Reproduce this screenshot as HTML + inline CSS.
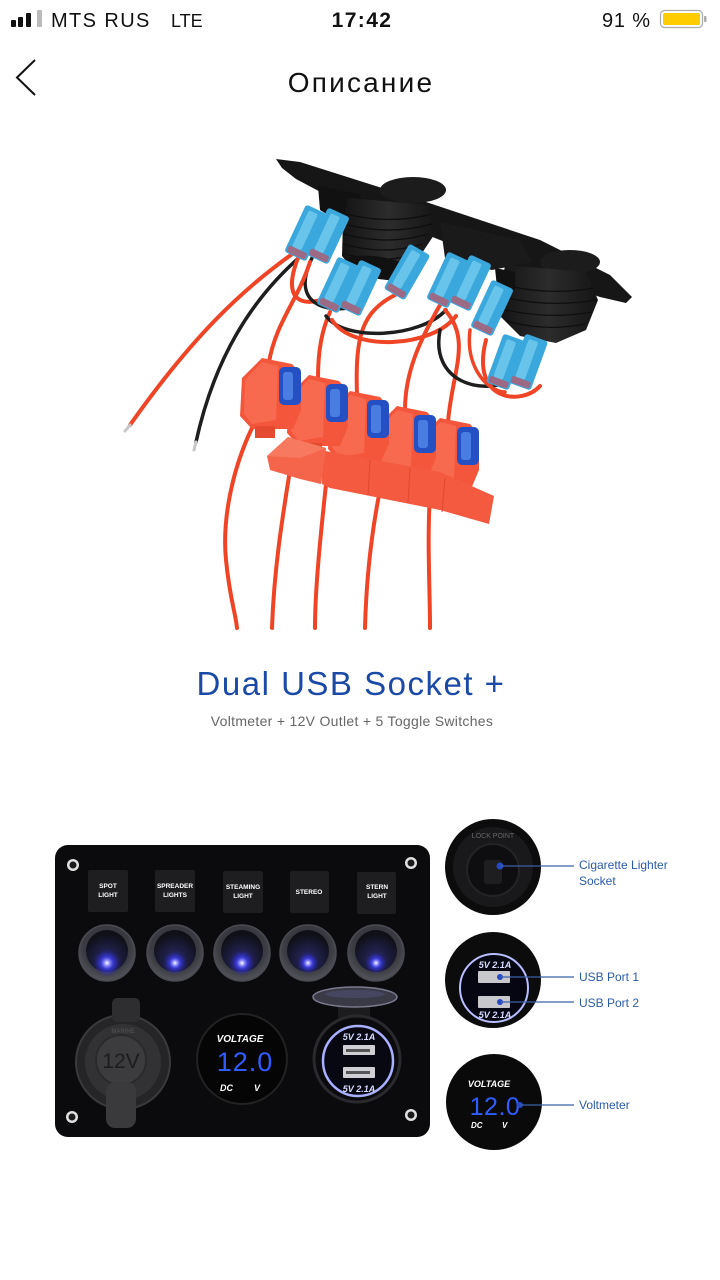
<!DOCTYPE html>
<html><head><meta charset="utf-8">
<style>
html,body{margin:0;padding:0;background:#fff;width:720px;height:1280px;overflow:hidden}
svg{display:block}
text{font-family:"Liberation Sans","DejaVu Sans",sans-serif}
</style></head>
<body>
<svg width="720" height="1280" viewBox="0 0 720 1280" xmlns="http://www.w3.org/2000/svg">
<defs>
  <radialGradient id="glow" cx="50%" cy="50%" r="50%">
    <stop offset="0" stop-color="#ffffff"/>
    <stop offset="0.18" stop-color="#9a9aff"/>
    <stop offset="0.45" stop-color="#4040ff" stop-opacity="0.7"/>
    <stop offset="1" stop-color="#2020c0" stop-opacity="0"/>
  </radialGradient>
  <radialGradient id="ring" cx="50%" cy="40%" r="60%">
    <stop offset="0" stop-color="#2a2a33"/>
    <stop offset="0.7" stop-color="#3b3b42"/>
    <stop offset="1" stop-color="#55555c"/>
  </radialGradient>
  <radialGradient id="rocker" cx="50%" cy="70%" r="60%">
    <stop offset="0" stop-color="#2a2a6a"/>
    <stop offset="1" stop-color="#101018"/>
  </radialGradient>
  <linearGradient id="cyl" x1="0" y1="0" x2="1" y2="0">
    <stop offset="0" stop-color="#141414"/>
    <stop offset="0.5" stop-color="#2c2c2c"/>
    <stop offset="1" stop-color="#151515"/>
  </linearGradient>
  <g id="conn">
    <rect x="-12" y="-26" width="24" height="52" rx="3" fill="#3aa8dc"/>
    <rect x="-7" y="-22" width="10" height="40" rx="2" fill="#78cef0" opacity="0.75"/>
    <rect x="-10" y="18" width="20" height="7" rx="2" fill="#c85060" opacity="0.7"/>
  </g>
  <g id="fuse">
    <path d="M242,378 L262,358 L292,364 L301,374 L301,410 L293,429 L252,429 L240,416 Z" fill="#f4563c"/>
    <path d="M245,380 L262,362 L278,366 L276,420 L252,424 L244,414 Z" fill="#f76a50"/>
    <rect x="279" y="367" width="22" height="38" rx="5" fill="#2550c4"/>
    <rect x="283" y="372" width="10" height="28" rx="3" fill="#4a7de2"/>
    <rect x="255" y="426" width="20" height="12" fill="#e44a30"/>
  </g>
</defs>

<!-- STATUS BAR -->
<rect x="11" y="20" width="5" height="7" rx="1" fill="#111"/>
<rect x="18" y="17" width="5" height="10" rx="1" fill="#111"/>
<rect x="26" y="13" width="5" height="14" rx="1" fill="#111"/>
<rect x="37" y="10" width="5" height="17" rx="1" fill="#bbb"/>
<text x="51" y="27" font-size="20" letter-spacing="1.4" fill="#111">MTS RUS</text>
<text x="171" y="27" font-size="18" fill="#111">LTE</text>
<text x="362" y="27" font-size="21" font-weight="bold" letter-spacing="1.4" text-anchor="middle" fill="#111">17:42</text>
<text x="602" y="27" font-size="20" letter-spacing="0.8" fill="#111">91 %</text>
<rect x="660.5" y="10.5" width="42" height="17" rx="4" fill="none" stroke="#aaa" stroke-width="1.2"/>
<rect x="663" y="13" width="37" height="12" rx="2" fill="#ffcc00"/>
<rect x="704" y="16" width="2.5" height="6" rx="1" fill="#aaa"/>

<!-- HEADER -->
<polyline points="35,60 17,77.5 35,95" fill="none" stroke="#111" stroke-width="2"/>
<text x="361" y="92" font-size="28" letter-spacing="2.2" text-anchor="middle" fill="#111">Описание</text>

<!-- WIRING PHOTO -->
<polygon points="276,159 300,162 420,200 540,240 610,275 632,297 626,303 600,297 540,276 470,252 400,224 330,197 296,179 282,168" fill="#161616"/>
<polygon points="318,186 360,194 364,216 340,222 320,210" fill="#111"/>
<ellipse cx="413" cy="190" rx="33" ry="13" fill="#1c1c1c"/>
<polygon points="348,198 430,205 436,232 412,268 386,279 356,273 342,256 343,220" fill="url(#cyl)"/>
<g stroke="#0e0e0e" stroke-width="1.3" fill="none">
  <path d="M346,214 Q390,225 432,214"/><path d="M344,224 Q390,236 432,224"/>
  <path d="M343,234 Q388,246 428,234"/><path d="M343,244 Q385,256 422,244"/>
  <path d="M345,254 Q382,265 414,254"/>
</g>
<ellipse cx="380" cy="268" rx="36" ry="11" transform="rotate(10 380 268)" fill="#111"/>
<polygon points="440,222 520,240 532,262 492,270 445,258" fill="#1a1a1a"/>
<ellipse cx="570" cy="262" rx="30" ry="12" fill="#1c1c1c"/>
<polygon points="505,265 586,272 598,300 586,330 556,343 520,336 500,316 502,285" fill="url(#cyl)"/>
<g stroke="#0e0e0e" stroke-width="1.3" fill="none">
  <path d="M504,285 Q550,296 594,288"/><path d="M502,297 Q550,308 596,300"/>
  <path d="M502,309 Q548,320 592,312"/><path d="M506,321 Q546,332 585,324"/>
</g>
<polygon points="495,268 515,272 515,290 497,288" fill="#111"/>

<g fill="none" stroke-linecap="round">
  <path d="M298,250 C240,290 190,340 130,425" stroke="#ef4426" stroke-width="4"/>
  <path d="M302,255 C250,300 214,360 196,442" stroke="#1e1e1e" stroke-width="3.5"/>
  <path d="M300,253 C280,300 300,310 332,296" stroke="#ef4426" stroke-width="4"/>
  <path d="M312,258 C292,300 320,312 348,308" stroke="#1e1e1e" stroke-width="3.5"/>
  <path d="M310,262 C298,300 276,322 269,362" stroke="#ef4426" stroke-width="4"/>
  <path d="M330,312 C322,330 318,350 318,378" stroke="#ef4426" stroke-width="4"/>
  <path d="M395,295 C362,312 355,335 357,395" stroke="#ef4426" stroke-width="4"/>
  <path d="M326,316 C345,342 420,338 446,310" stroke="#1e1e1e" stroke-width="3.5"/>
  <path d="M332,320 C352,352 432,348 456,316" stroke="#ef4426" stroke-width="4"/>
  <path d="M440,305 C420,340 405,372 405,410" stroke="#ef4426" stroke-width="4"/>
  <path d="M445,310 C472,340 452,372 448,422" stroke="#ef4426" stroke-width="4"/>
  <path d="M440,330 C430,382 482,396 512,380" stroke="#1e1e1e" stroke-width="3.5"/>
  <path d="M486,340 C470,402 522,406 540,386" stroke="#ef4426" stroke-width="4"/>
  <path d="M470,330 C465,370 490,392 505,392" stroke="#ef4426" stroke-width="3.5"/>
  <line x1="130" y1="425" x2="125" y2="431" stroke="#c8c8c8" stroke-width="3"/>
  <line x1="196" y1="442" x2="194" y2="450" stroke="#c8c8c8" stroke-width="3"/>
</g>

<use href="#conn" transform="translate(306,233) rotate(25)"/>
<use href="#conn" transform="translate(328,236) rotate(25)"/>
<use href="#conn" transform="translate(338,285) rotate(25)"/>
<use href="#conn" transform="translate(360,288) rotate(25)"/>
<use href="#conn" transform="translate(407,272) rotate(30)"/>
<use href="#conn" transform="translate(448,280) rotate(25)"/>
<use href="#conn" transform="translate(470,283) rotate(25)"/>
<use href="#conn" transform="translate(492,308) rotate(25)"/>
<use href="#conn" transform="translate(506,362) rotate(20)"/>
<use href="#conn" transform="translate(528,362) rotate(20)"/>

<g fill="none" stroke="#ef4426" stroke-width="4" stroke-linecap="round">
  <path d="M252,428 C232,470 222,520 226,560 S235,610 237,628"/>
  <path d="M290,470 C282,520 274,570 272,628"/>
  <path d="M327,475 C320,540 315,590 315,628"/>
  <path d="M380,490 C370,540 366,590 365,628"/>
  <path d="M430,495 C427,540 430,590 430,628"/>
</g>

<use href="#fuse" transform="translate(178,60)"/>
<use href="#fuse" transform="translate(135,48)"/>
<use href="#fuse" transform="translate(88,33)"/>
<use href="#fuse" transform="translate(47,17)"/>
<use href="#fuse"/>
<polygon points="320,450 440,472 494,496 489,524 440,510 330,488 322,484" fill="#f35a40"/>
<g stroke="#e0482f" stroke-width="1" fill="none">
  <path d="M370,460 L368,495"/><path d="M410,468 L408,503"/><path d="M445,478 L442,512"/>
</g>
<polygon points="267,456 288,437 326,448 321,484 300,479 270,470" fill="#f5654b"/>
<polygon points="267,456 288,437 326,448 300,458" fill="#f77a60"/>

<!-- TITLE -->
<text x="351" y="695" font-size="33" letter-spacing="1.5" text-anchor="middle" fill="#1a4aa6">Dual USB Socket +</text>
<text x="352" y="726" font-size="14" letter-spacing="0.3" text-anchor="middle" fill="#666">Voltmeter + 12V Outlet + 5 Toggle Switches</text>

<!-- PANEL -->
<rect x="55" y="845" width="375" height="292" rx="13" fill="#0b0b0e"/>
<g fill="#e0e0e0"><circle cx="73" cy="865" r="6"/><circle cx="411" cy="863" r="6"/><circle cx="72" cy="1117" r="6"/><circle cx="411" cy="1115" r="6"/></g>
<g fill="#1a1a1a"><circle cx="73" cy="865" r="3.5"/><circle cx="411" cy="863" r="3.5"/><circle cx="72" cy="1117" r="3.5"/><circle cx="411" cy="1115" r="3.5"/></g>

<g fill="#1e1e21">
  <rect x="88" y="870" width="40" height="42" rx="2"/>
  <rect x="155" y="870" width="40" height="42" rx="2"/>
  <rect x="223" y="871" width="40" height="42" rx="2"/>
  <rect x="290" y="871" width="39" height="42" rx="2"/>
  <rect x="357" y="872" width="39" height="42" rx="2"/>
</g>
<g fill="#fff" font-size="6.5" font-weight="bold" text-anchor="middle">
  <text x="108" y="888">SPOT</text><text x="108" y="897">LIGHT</text>
  <text x="175" y="888">SPREADER</text><text x="175" y="897">LIGHTS</text>
  <text x="243" y="889">STEAMING</text><text x="243" y="898">LIGHT</text>
  <text x="309" y="894">STEREO</text>
  <text x="377" y="889">STERN</text><text x="377" y="898">LIGHT</text>
</g>

<g>
  <circle cx="107" cy="953" r="28" fill="url(#ring)" stroke="#4a4a52" stroke-width="1.5"/>
  <circle cx="107" cy="951" r="21" fill="url(#rocker)"/>
  <circle cx="107" cy="963" r="14" fill="url(#glow)"/>
  <circle cx="175" cy="953" r="28" fill="url(#ring)" stroke="#4a4a52" stroke-width="1.5"/>
  <circle cx="175" cy="951" r="21" fill="url(#rocker)"/>
  <circle cx="175" cy="963" r="12" fill="url(#glow)"/>
  <circle cx="242" cy="953" r="28" fill="url(#ring)" stroke="#4a4a52" stroke-width="1.5"/>
  <circle cx="242" cy="951" r="21" fill="url(#rocker)"/>
  <circle cx="242" cy="963" r="13" fill="url(#glow)"/>
  <circle cx="308" cy="953" r="28" fill="url(#ring)" stroke="#4a4a52" stroke-width="1.5"/>
  <circle cx="308" cy="951" r="21" fill="url(#rocker)"/>
  <circle cx="308" cy="963" r="11" fill="url(#glow)"/>
  <circle cx="376" cy="953" r="28" fill="url(#ring)" stroke="#4a4a52" stroke-width="1.5"/>
  <circle cx="376" cy="951" r="21" fill="url(#rocker)"/>
  <circle cx="376" cy="963" r="11" fill="url(#glow)"/>
</g>

<circle cx="123" cy="1062" r="47" fill="#252527" stroke="#3a3a3c" stroke-width="2"/>
<circle cx="123" cy="1062" r="38" fill="#323234"/>
<rect x="112" y="998" width="28" height="24" rx="5" fill="#2e2e30"/>
<circle cx="121" cy="1060" r="25" fill="#3c3c3e" stroke="#2a2a2c" stroke-width="2"/>
<text x="121" y="1068" font-size="21" text-anchor="middle" fill="#1c1c1c">12V</text>
<text x="123" y="1033" font-size="6" text-anchor="middle" fill="#555">MARINE</text>
<rect x="106" y="1082" width="30" height="46" rx="9" fill="#3a3a3c"/>

<circle cx="242" cy="1059" r="45" fill="#050506" stroke="#222" stroke-width="2"/>
<text x="240" y="1042" font-size="10" font-weight="bold" font-style="italic" text-anchor="middle" fill="#fff">VOLTAGE</text>
<text x="245" y="1071" font-size="27" text-anchor="middle" letter-spacing="1" fill="#2f5cff">12.0</text>
<text x="220" y="1091" font-size="9" font-weight="bold" font-style="italic" fill="#fff">DC</text>
<text x="254" y="1091" font-size="9" font-weight="bold" font-style="italic" fill="#fff">V</text>

<rect x="338" y="998" width="32" height="20" fill="#1c1c1e"/>
<ellipse cx="355" cy="997" rx="42" ry="10" fill="#3a3a46" stroke="#7a7a90" stroke-width="1.5"/>
<ellipse cx="355" cy="994" rx="30" ry="4" fill="#4a4a66" opacity="0.8"/>
<circle cx="357" cy="1059" r="43" fill="#0b0b0e" stroke="#2a2a2e" stroke-width="3"/>
<circle cx="358" cy="1061" r="35" fill="#080812" stroke="#a8b0ff" stroke-width="2.5"/>
<text x="359" y="1040" font-size="9" font-weight="bold" font-style="italic" text-anchor="middle" fill="#d8dcff">5V 2.1A</text>
<rect x="343" y="1045" width="32" height="10" rx="1" fill="#d0d0d4"/>
<rect x="346" y="1049" width="24" height="3" fill="#555"/>
<rect x="343" y="1067" width="32" height="11" rx="1" fill="#d0d0d4"/>
<rect x="346" y="1071" width="24" height="3" fill="#555"/>
<text x="359" y="1092" font-size="9" font-weight="bold" font-style="italic" text-anchor="middle" fill="#d8dcff">5V 2.1A</text>

<!-- RIGHT SIDE CIRCLES -->
<circle cx="493" cy="867" r="48" fill="#0c0c0d"/>
<circle cx="493" cy="867" r="40" fill="#19191b"/>
<text x="493" y="838" font-size="7" text-anchor="middle" fill="#666">LOCK POINT</text>
<circle cx="493" cy="870" r="26" fill="#0e0e10" stroke="#242426" stroke-width="2"/>
<rect x="484" y="860" width="18" height="24" rx="3" fill="#1e1e20"/>
<circle cx="500" cy="866" r="3.5" fill="#2448c8"/>

<circle cx="493" cy="980" r="48" fill="#0c0c0d"/>
<circle cx="494" cy="988" r="34" fill="#060612" stroke="#b8beff" stroke-width="2"/>
<text x="495" y="968" font-size="9" font-weight="bold" font-style="italic" text-anchor="middle" fill="#d8dcff">5V 2.1A</text>
<rect x="478" y="971" width="32" height="12" rx="1" fill="#c8c8cc"/>
<rect x="478" y="996" width="32" height="12" rx="1" fill="#c8c8cc"/>
<text x="495" y="1018" font-size="9" font-weight="bold" font-style="italic" text-anchor="middle" fill="#d8dcff">5V 2.1A</text>
<circle cx="500" cy="977" r="3" fill="#2448c8"/>
<circle cx="500" cy="1002" r="3" fill="#2448c8"/>

<circle cx="494" cy="1102" r="48" fill="#0a0a0b"/>
<text x="489" y="1087" font-size="9" font-weight="bold" font-style="italic" text-anchor="middle" fill="#fff">VOLTAGE</text>
<text x="495" y="1115" font-size="25" letter-spacing="0.5" text-anchor="middle" fill="#2f5cff">12.0</text>
<text x="471" y="1128" font-size="8" font-weight="bold" font-style="italic" fill="#fff">DC</text>
<text x="502" y="1128" font-size="8" font-weight="bold" font-style="italic" fill="#fff">V</text>
<circle cx="520" cy="1105" r="3" fill="#2448c8"/>

<g stroke="#3c5fa6" stroke-width="1.2">
  <line x1="500" y1="866" x2="574" y2="866"/>
  <line x1="500" y1="977" x2="574" y2="977"/>
  <line x1="500" y1="1002" x2="574" y2="1002"/>
  <line x1="520" y1="1105" x2="574" y2="1105"/>
</g>
<g font-size="12" fill="#2c5ba8">
  <text x="579" y="869">Cigarette Lighter</text>
  <text x="579" y="885">Socket</text>
  <text x="579" y="981">USB Port 1</text>
  <text x="579" y="1007">USB Port 2</text>
  <text x="579" y="1109">Voltmeter</text>
</g>
</svg>
</body></html>
